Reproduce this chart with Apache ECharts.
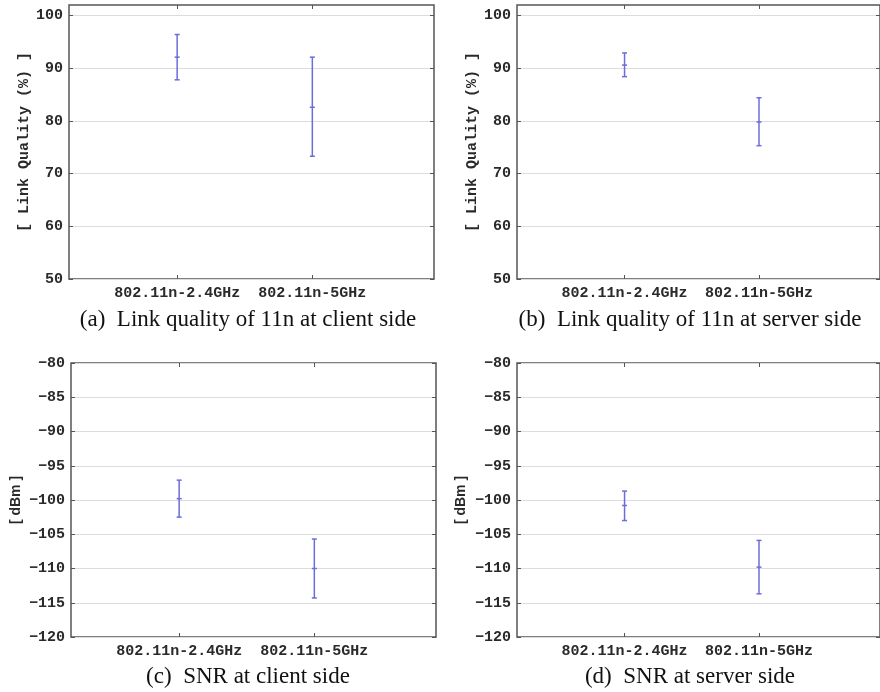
<!DOCTYPE html>
<html>
  <head>
    <meta charset="UTF-8" />
    <title>802.11n link quality and SNR</title>
    <style>
      html, body { margin: 0; padding: 0; background: #fff; }
      #chart { width: 880px; height: 692px; }
    </style>
    <script src="https://cdn.jsdelivr.net/npm/echarts@6/dist/echarts.min.js"></script>
  </head>
  <body>
    <div id="chart"></div>
    <script>
      // categories on the x axis (placed at 1 and 2)
      var categories = ["802.11n-2.4GHz", "802.11n-5GHz"];
      var catPos = [1, 2];

      // (a) link quality, client side
      var lqClientMean = [92.1, 82.6];
      var lqClientLow = [87.8, 73.3];
      var lqClientHigh = [96.4, 92.1];
      // (b) link quality, server side
      var lqServerMean = [90.6, 79.8];
      var lqServerLow = [88.4, 75.3];
      var lqServerHigh = [92.9, 84.4];
      // (c) SNR, client side
      var snrClientMean = [-99.8, -110.0];
      var snrClientLow = [-102.5, -114.3];
      var snrClientHigh = [-97.1, -105.7];
      // (d) SNR, server side
      var snrServerMean = [-100.8, -109.8];
      var snrServerLow = [-103.0, -113.7];
      var snrServerHigh = [-98.7, -105.9];

      var lqTicks = [50, 60, 70, 80, 90, 100];
      var snrTicks = [-120, -115, -110, -105, -100, -95, -90, -85, -80];

      var captions = [
        "(a)  Link quality of 11n at client side",
        "(b)  Link quality of 11n at server side",
        "(c)  SNR at client side",
        "(d)  SNR at server side"
      ];

      var mono = "'Liberation Mono', 'DejaVu Sans Mono', monospace";
      var sans = "'Liberation Sans', Arial, sans-serif";

      var panels = [
        { mean: lqClientMean, low: lqClientLow, high: lqClientHigh, ticks: lqTicks, min: 50, max: 102, step: 10,
          name: "[ Link Quality (%) ]", nameFont: mono, gap: 33, grid: { left: 69, top: 5, width: 365, height: 274 }, cap: [248, 320] },
        { mean: lqServerMean, low: lqServerLow, high: lqServerHigh, ticks: lqTicks, min: 50, max: 102, step: 10,
          name: "[ Link Quality (%) ]", nameFont: mono, gap: 32, grid: { left: 517, top: 5, width: 365, height: 274 }, cap: [690, 320] },
        { mean: snrClientMean, low: snrClientLow, high: snrClientHigh, ticks: snrTicks, min: -120, max: -80, step: 5,
          name: "[ dBm ]", nameFont: sans, gap: 48, grid: { left: 71, top: 363, width: 365, height: 274 }, cap: [248, 677] },
        { mean: snrServerMean, low: snrServerLow, high: snrServerHigh, ticks: snrTicks, min: -120, max: -80, step: 5,
          name: "[ dBm ]", nameFont: sans, gap: 49, grid: { left: 517, top: 363, width: 365, height: 274 }, cap: [690, 677] }
      ];

      var barColor = "#6c6cdc";
      var frameColor = "#555";
      var labelColor = "#2a2a2a";

      var grids = [], xAxes = [], yAxes = [], series = [], texts = [];

      panels.forEach(function (p, i) {
        grids.push({
          left: p.grid.left, top: p.grid.top, width: p.grid.width, height: p.grid.height,
          show: true, borderColor: frameColor, borderWidth: 1.5, backgroundColor: "#fff"
        });

        var xBase = {
          type: "value", gridIndex: i, min: 0.2, max: 2.9,
          splitLine: { show: false },
          axisLine: { show: false }
        };
        xAxes.push(Object.assign({}, xBase, {
          position: "bottom",
          axisTick: { show: true, inside: true, length: 4, customValues: catPos, lineStyle: { color: frameColor } },
          axisLabel: {
            customValues: catPos, margin: 7,
            fontFamily: mono, fontWeight: "bold", fontSize: 15, color: labelColor,
            formatter: function (v) { return categories[Math.round(v) - 1]; }
          }
        }));
        xAxes.push(Object.assign({}, xBase, {
          position: "top",
          axisTick: { show: true, inside: true, length: 4, customValues: catPos, lineStyle: { color: frameColor } },
          axisLabel: { show: false }
        }));

        var yBase = {
          type: "value", gridIndex: i, min: p.min, max: p.max, interval: p.step,
          axisLine: { show: false }
        };
        yAxes.push(Object.assign({}, yBase, {
          position: "left",
          name: p.name, nameLocation: "middle", nameGap: p.gap, nameRotate: 90,
          nameTextStyle: { fontFamily: p.nameFont, fontWeight: "bold", fontSize: p.nameFont === mono ? 15 : 14, color: labelColor },
          splitLine: { show: true, lineStyle: { color: "#dcdcdc", width: 1 } },
          axisTick: { show: true, inside: true, length: 4, customValues: p.ticks, lineStyle: { color: frameColor } },
          axisLabel: {
            customValues: p.ticks, margin: 6,
            fontFamily: mono, fontWeight: "bold", fontSize: 15, color: labelColor,
            formatter: function (v) { return String(v).replace("-", "\u2212"); }
          }
        }));
        yAxes.push(Object.assign({}, yBase, {
          position: "right",
          splitLine: { show: false },
          axisTick: { show: true, inside: true, length: 4, customValues: p.ticks, lineStyle: { color: frameColor } },
          axisLabel: { show: false }
        }));

        var data = catPos.map(function (x, k) {
          return [x, p.mean[k], p.low[k], p.high[k]];
        });

        series.push({
          type: "custom",
          xAxisIndex: i * 2,
          yAxisIndex: i * 2,
          data: data,
          silent: true,
          renderItem: function (params, api) {
            var x = api.value(0);
            var m = api.coord([x, api.value(1)]);
            var lo = api.coord([x, api.value(2)]);
            var hi = api.coord([x, api.value(3)]);
            var st = { stroke: barColor, lineWidth: 1.5 };
            var w = 2.5;
            return {
              type: "group",
              children: [
                { type: "line", shape: { x1: hi[0], y1: hi[1], x2: lo[0], y2: lo[1] }, style: st },
                { type: "line", shape: { x1: hi[0] - w, y1: hi[1], x2: hi[0] + w, y2: hi[1] }, style: st },
                { type: "line", shape: { x1: lo[0] - w, y1: lo[1], x2: lo[0] + w, y2: lo[1] }, style: st },
                { type: "line", shape: { x1: m[0] - w, y1: m[1], x2: m[0] + w, y2: m[1] }, style: st }
              ]
            };
          }
        });

        texts.push({
          type: "text",
          x: p.cap[0], y: p.cap[1],
          style: {
            text: captions[i],
            fill: "#111",
            font: "23px 'Liberation Serif', 'DejaVu Serif', serif",
            textAlign: "center",
            textVerticalAlign: "middle"
          }
        });
      });

      var myChart = echarts.init(document.getElementById("chart"));
      myChart.setOption({
        animation: false,
        backgroundColor: "#fff",
        grid: grids,
        xAxis: xAxes,
        yAxis: yAxes,
        series: series,
        graphic: texts
      });
    </script>
  </body>
</html>
